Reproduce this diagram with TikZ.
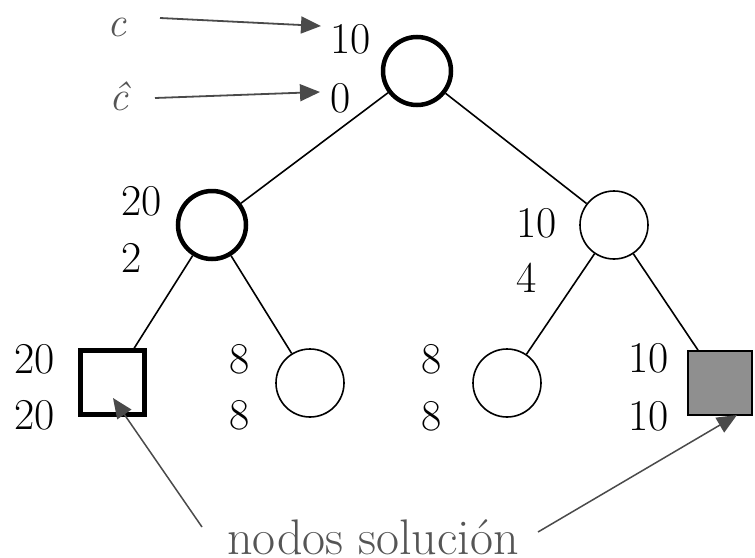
\documentclass[tikz,border=0pt]{standalone}
\usetikzlibrary{arrows.meta}
\definecolor{note}{HTML}{555555}
\definecolor{pointer}{HTML}{4A4A4A}
\definecolor{solfill}{HTML}{8F8F8F}
\tikzset{
  tnode/.style={circle,draw=black,line width=1.6pt,minimum size=68pt,inner sep=0pt},
  bold node/.style={line width=4.5pt},
  leafbox/.style={rectangle,draw=black,minimum size=64pt,inner sep=0pt},
  val/.style={anchor=base west,inner sep=0pt,font=\fontsize{44}{44}\selectfont},
  symb/.style={text=note,anchor=base,inner sep=0pt,font=\fontsize{42}{42}\selectfont\itshape},
  edge/.style={line width=1.6pt},
  pointer/.style={draw=pointer,line width=1.8pt,-{Triangle[length=20pt,width=17pt]}},
}
\begin{document}
\begin{tikzpicture}[x=1pt,y=-1pt]
\useasboundingbox (0,0) rectangle (755,557);

% tree nodes
\node[tnode,bold node] (root) at (417,71) {};
\node[tnode,bold node] (lc) at (212,225) {};
\node[tnode] (rc) at (614,225) {};
\node[leafbox,line width=4.5pt] (l1) at (112.5,382.5) {};
\node[tnode] (l2) at (310,383) {};
\node[tnode] (l3) at (507,383) {};
\node[leafbox,fill=solfill,line width=1.6pt] (l4) at (720,383) {};

% tree edges
\draw[edge] (root) -- (lc);
\draw[edge] (root) -- (rc);
\draw[edge] (lc) -- (l1);
\draw[edge] (lc) -- (l2);
\draw[edge] (rc) -- (l3);
\draw[edge] (rc) -- (l4);

% cost values
\node[val] (v0a) at (330,53) {10};
\node[val] (v0b) at (330,112) {0};
\node[val] (v1a) at (121,215) {20};
\node[val] (v1b) at (121,272) {2};
\node[val] (v2a) at (516,237) {10};
\node[val] (v2b) at (516,292) {4};
\node[val] (v3a) at (14,373) {20};
\node[val] (v3b) at (14,429) {20};
\node[val] (v4a) at (229,373) {8};
\node[val] (v4b) at (229,429) {8};
\node[val] (v5a) at (421,373) {8};
\node[val] (v5b) at (421,430) {8};
\node[val] (v6a) at (628,372) {10};
\node[val] (v6b) at (628,430) {10};

% legend for the two values
\node[symb] (cl) at (117,36) {c};
\node[symb] (ch) at (119,110) {\^c};
\coordinate (cTail) at (160,18);
\coordinate (cTip) at (321,26);
\coordinate (hTail) at (155,98);
\coordinate (hTip) at (320,92);
\draw[pointer] (cTail) -- (cTip);
\draw[pointer] (hTail) -- (hTip);

% solution label
\node[text=note,anchor=base,inner sep=0pt,font=\fontsize{50}{50}\selectfont] (sol) at (373,554) {nodos solución};
\coordinate (sTailL) at (202,527);
\coordinate (sTipL) at (113,398);
\coordinate (sTailR) at (538,532);
\coordinate (sTipR) at (737,415);
\draw[pointer,line width=1.5pt] (sTailL) -- (sTipL);
\draw[pointer,line width=1.5pt] (sTailR) -- (sTipR);
\end{tikzpicture}
\end{document}
